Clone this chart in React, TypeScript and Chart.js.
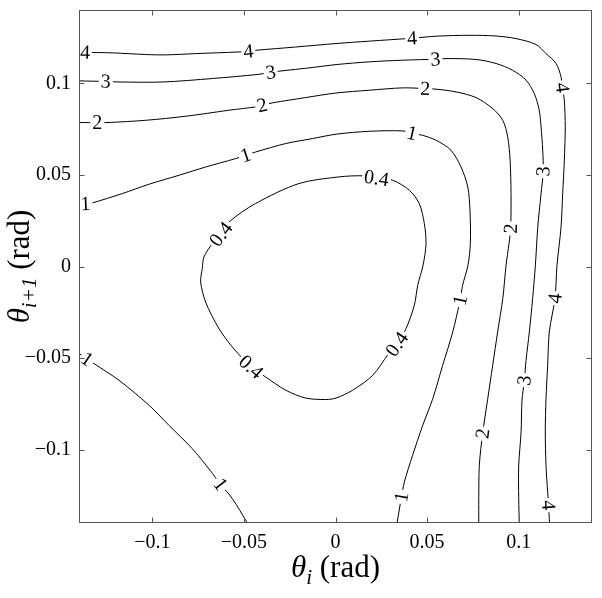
import React, { useEffect, useRef } from "react";
import { Chart, registerables } from "chart.js";

Chart.register(...registerables);

const X_MIN = -0.14;
const X_MAX = 0.14;
const Y_MIN = -0.14;
const Y_MAX = 0.14;
const TICK_VALUES = [-0.1, -0.05, 0, 0.05, 0.1];
const TICK_LABELS = ["−0.1", "−0.05", "0", "0.05", "0.1"];

// Contour level 4
const c4X = [-0.14, -0.1367, -0.1218, -0.1036, -0.0927, -0.0763, -0.0527, -0.0476, -0.0436, -0.0217, 0.0003, 0.0184, 0.0418, 0.0549, 0.073, 0.0876, 0.0985, 0.1094, 0.1149, 0.1204, 0.1231, 0.1239, 0.1249, 0.1254, 0.1249, 0.124, 0.1231, 0.1209, 0.1198, 0.1167, 0.1158, 0.1149, 0.1145, 0.1149, 0.1158, 0.1163, 0.1168];
const c4Y = [0.1171, 0.1169, 0.1166, 0.1157, 0.1155, 0.1162, 0.1171, 0.1175, 0.118, 0.1198, 0.1217, 0.123, 0.1246, 0.1257, 0.1262, 0.1258, 0.1244, 0.1212, 0.1162, 0.1108, 0.1035, 0.0977, 0.0907, 0.0762, 0.058, 0.0398, 0.0216, 0.0007, -0.0173, -0.0357, -0.0539, -0.0721, -0.0903, -0.1085, -0.1231, -0.1303, -0.14];
const c4Labels = [1, 7, 12, 21, 28, 35];

// Contour level 3
const c3X = [-0.14, -0.1254, -0.1182, -0.0945, -0.0672, -0.0418, -0.0354, -0.0308, -0.0127, 0.0003, 0.0184, 0.0367, 0.0494, 0.0546, 0.0603, 0.0767, 0.0876, 0.0967, 0.104, 0.1085, 0.1112, 0.1122, 0.1131, 0.1134, 0.1122, 0.1104, 0.1091, 0.1076, 0.1058, 0.104, 0.1031, 0.1018, 0.1013, 0.1, 0.1, 0.1003];
const c3Y = [0.1013, 0.101, 0.1007, 0.1007, 0.1026, 0.1049, 0.106, 0.1066, 0.1086, 0.1102, 0.1117, 0.1126, 0.113, 0.1131, 0.1135, 0.113, 0.1108, 0.1071, 0.1017, 0.0944, 0.0853, 0.0762, 0.0635, 0.052, 0.0398, 0.0216, 0.0007, -0.0175, -0.0357, -0.0512, -0.0621, -0.073, -0.0903, -0.1085, -0.1267, -0.14];
const c3Labels = [1, 6, 13, 23, 30];

// Contour level 2
const c2X = [-0.14, -0.13, -0.1236, -0.1036, -0.0818, -0.0581, -0.0436, -0.04, -0.0345, -0.0163, 0.0003, 0.0184, 0.0367, 0.049, 0.0549, 0.0658, 0.0767, 0.0858, 0.0913, 0.094, 0.0953, 0.0958, 0.0956, 0.0947, 0.0931, 0.0913, 0.0885, 0.0858, 0.0831, 0.0803, 0.0785, 0.0782, 0.0782];
const c2Y = [0.0786, 0.0785, 0.0786, 0.0798, 0.082, 0.0853, 0.0871, 0.088, 0.0893, 0.0922, 0.0947, 0.0962, 0.0975, 0.0971, 0.0968, 0.0953, 0.0922, 0.0862, 0.0798, 0.0707, 0.058, 0.0398, 0.0207, 0.0125, 0.0007, -0.0175, -0.0357, -0.0539, -0.0721, -0.0912, -0.1085, -0.1267, -0.14];
const c2Labels = [1, 7, 13, 22, 29];

// Contour level 1 (upper / right branch)
const c1aX = [-0.14, -0.1364, -0.1328, -0.1164, -0.1018, -0.0854, -0.0709, -0.0545, -0.049, -0.0436, -0.0272, -0.0127, 0.0003, 0.0184, 0.0367, 0.0418, 0.0476, 0.0549, 0.063, 0.0685, 0.0722, 0.0734, 0.0736, 0.0723, 0.0694, 0.068, 0.064, 0.0585, 0.0531, 0.0476, 0.0421, 0.0376, 0.036, 0.0336];
const c1aY = [0.0344, 0.0342, 0.0347, 0.0398, 0.0449, 0.0498, 0.0543, 0.0589, 0.0607, 0.0625, 0.0671, 0.0698, 0.0722, 0.0738, 0.074, 0.0727, 0.0716, 0.0689, 0.0635, 0.0543, 0.0434, 0.0307, 0.0125, 0.0007, -0.0102, -0.0184, -0.0357, -0.0539, -0.0721, -0.0867, -0.103, -0.1176, -0.1258, -0.14];
const c1aLabels = [1, 8, 15, 25, 32];

// Contour level 1 (lower-left branch)
const c1bX = [-0.14, -0.1355, -0.1318, -0.1182, -0.1018, -0.0909, -0.0782, -0.0685, -0.0628, -0.0563, -0.0481];
const c1bY = [-0.0475, -0.0505, -0.053, -0.0621, -0.0757, -0.0867, -0.0994, -0.1112, -0.1189, -0.1267, -0.14];
const c1bLabels = [1, 8];

// Contour level 0.4 (closed loop)
const c04X = [0.0224, 0.0312, 0.0403, 0.0457, 0.0485, 0.0494, 0.0478, 0.0449, 0.043, 0.0385, 0.0336, 0.0288, 0.0203, 0.0094, 0.0003, -0.0053, -0.0163, -0.0272, -0.0381, -0.0461, -0.0563, -0.0636, -0.0709, -0.0736, -0.0727, -0.0718, -0.0672, -0.0625, -0.0581, -0.0436, -0.0199, 0.0019, 0.0152, 0.0224];
const c04Y = [0.0482, 0.0471, 0.0416, 0.0344, 0.0234, 0.0125, 0.0007, -0.0102, -0.0212, -0.0339, -0.0424, -0.0479, -0.0594, -0.0675, -0.0718, -0.0726, -0.0718, -0.0675, -0.0603, -0.0548, -0.0439, -0.0339, -0.0194, -0.0084, -0.001, 0.0052, 0.0125, 0.0176, 0.0243, 0.0344, 0.0453, 0.0489, 0.0495, 0.0482];
const c04Labels = [0, 10, 19, 27];

const CONTOURS = [
  { level: "4", xs: c4X, ys: c4Y, labels: c4Labels, closed: false },
  { level: "3", xs: c3X, ys: c3Y, labels: c3Labels, closed: false },
  { level: "2", xs: c2X, ys: c2Y, labels: c2Labels, closed: false },
  { level: "1", xs: c1aX, ys: c1aY, labels: c1aLabels, closed: false },
  { level: "1", xs: c1bX, ys: c1bY, labels: c1bLabels, closed: false },
  { level: "0.4", xs: c04X, ys: c04Y, labels: c04Labels, closed: true },
];

const FONT = '"Liberation Serif", "Times New Roman", Times, serif';
const FRAME_COLOR = "#555555";

function tickText(v: number): string {
  const i = TICK_VALUES.findIndex((t) => Math.abs(t - v) < 1e-9);
  return i >= 0 ? TICK_LABELS[i] : "";
}

const contourLabelPlugin = {
  id: "contourLabels",
  afterDatasetsDraw(chart: any) {
    const ctx = chart.ctx;
    const sx = chart.scales.x;
    const sy = chart.scales.y;
    const area = chart.chartArea;
    ctx.save();
    ctx.beginPath();
    ctx.rect(area.left, area.top, area.right - area.left, area.bottom - area.top);
    ctx.clip();
    ctx.font = `20px ${FONT}`;
    ctx.textAlign = "center";
    ctx.textBaseline = "middle";
    chart.data.datasets.forEach((ds: any) => {
      const pts = ds.data;
      const n = pts.length;
      (ds.labelIdx || []).forEach((idx: number) => {
        let ia = idx - 1;
        let ib = idx + 1;
        if (ia < 0) ia = ds.closed ? n - 2 : 0;
        if (ib > n - 1) ib = ds.closed ? 1 : n - 1;
        const p = pts[idx];
        const a = pts[ia];
        const b = pts[ib];
        const px = sx.getPixelForValue(p.x);
        const py = sy.getPixelForValue(p.y);
        const ax = sx.getPixelForValue(a.x);
        const ay = sy.getPixelForValue(a.y);
        const bx = sx.getPixelForValue(b.x);
        const by = sy.getPixelForValue(b.y);
        let ang = Math.atan2(by - ay, bx - ax);
        if (ang > Math.PI / 2) ang -= Math.PI;
        if (ang < -Math.PI / 2) ang += Math.PI;
        const w = ctx.measureText(ds.levelText).width;
        ctx.save();
        ctx.translate(px, py);
        ctx.rotate(ang);
        ctx.fillStyle = "#ffffff";
        ctx.fillRect(-w / 2 - 2, -7, w + 4, 14);
        ctx.fillStyle = "#000000";
        ctx.fillText(ds.levelText, 0, 1);
        ctx.restore();
      });
    });
    ctx.restore();
  },
};

const framePlugin = {
  id: "frameAndTitles",
  afterDraw(chart: any) {
    const ctx = chart.ctx;
    const a = chart.chartArea;
    const sx = chart.scales.x;
    const sy = chart.scales.y;
    ctx.save();
    ctx.strokeStyle = FRAME_COLOR;
    ctx.lineWidth = 1;
    const L = Math.round(a.left) + 0.5;
    const R = Math.round(a.right) - 0.5;
    const T = Math.round(a.top) + 0.5;
    const B = Math.round(a.bottom) - 0.5;
    ctx.strokeRect(L, T, R - L, B - T);
    const tl = 5;
    ctx.beginPath();
    TICK_VALUES.forEach((v) => {
      const x = Math.round(sx.getPixelForValue(v)) + 0.5;
      ctx.moveTo(x, B);
      ctx.lineTo(x, B - tl);
      ctx.moveTo(x, T);
      ctx.lineTo(x, T + tl);
      const y = Math.round(sy.getPixelForValue(v)) + 0.5;
      ctx.moveTo(L, y);
      ctx.lineTo(L + tl, y);
      ctx.moveTo(R, y);
      ctx.lineTo(R - tl, y);
    });
    ctx.stroke();

    // axis titles
    const drawTitle = (sub: string, cx: number, baseline: number) => {
      const big = 31;
      const small = 21;
      const parts = [
        { t: "θ", f: `italic ${big}px ${FONT}`, dy: 0 },
        { t: sub, f: `italic ${small}px ${FONT}`, dy: 7 },
        { t: " (rad)", f: `${big}px ${FONT}`, dy: 0 },
      ];
      let total = 0;
      const widths = parts.map((p) => {
        ctx.font = p.f;
        const w = ctx.measureText(p.t).width;
        total += w;
        return w;
      });
      let x = cx - total / 2;
      ctx.fillStyle = "#000";
      ctx.textAlign = "left";
      ctx.textBaseline = "alphabetic";
      parts.forEach((p, i) => {
        ctx.font = p.f;
        ctx.fillText(p.t, x, baseline + p.dy);
        x += widths[i];
      });
    };
    const midX = (a.left + a.right) / 2;
    const midY = (a.top + a.bottom) / 2;
    drawTitle("i", midX, 577);
    ctx.save();
    ctx.translate(29, midY);
    ctx.rotate(-Math.PI / 2);
    drawTitle("i+1", 0, 0);
    ctx.restore();
    ctx.restore();
  },
};

const zeroPad = (s: any) => {
  s.paddingTop = 0;
  s.paddingBottom = 0;
  s.paddingLeft = 0;
  s.paddingRight = 0;
};

export default function App() {
  const ref = useRef<HTMLCanvasElement | null>(null);
  useEffect(() => {
    if (!ref.current) return;
    const datasets = CONTOURS.map((c) => ({
      data: c.xs.map((x, i) => ({ x, y: c.ys[i] })),
      showLine: true,
      borderColor: "#000000",
      borderWidth: 1,
      pointRadius: 0,
      fill: false,
      tension: 0.3,
      levelText: c.level,
      labelIdx: c.labels,
      closed: c.closed,
    }));
    const tickFont = { family: FONT, size: 20 };
    const chart = new Chart(ref.current, {
      type: "scatter",
      data: { datasets: datasets as any },
      options: {
        responsive: false,
        maintainAspectRatio: false,
        animation: false,
        layout: { padding: { left: 0, top: 10, right: 10, bottom: 0 } },
        plugins: { legend: { display: false }, tooltip: { enabled: false } },
        scales: {
          x: {
            type: "linear",
            min: X_MIN,
            max: X_MAX,
            grid: { display: false, drawTicks: false },
            border: { display: false },
            afterBuildTicks: (s: any) => {
              s.ticks = TICK_VALUES.map((v) => ({ value: v }));
            },
            afterFit: (s: any) => {
              s.height = 75;
              zeroPad(s);
            },
            ticks: {
              callback: (v: any) => tickText(Number(v)),
              font: tickFont,
              color: "#000",
              padding: 8,
              maxRotation: 0,
              autoSkip: false,
            },
          },
          y: {
            type: "linear",
            min: Y_MIN,
            max: Y_MAX,
            grid: { display: false, drawTicks: false },
            border: { display: false },
            afterBuildTicks: (s: any) => {
              s.ticks = TICK_VALUES.map((v) => ({ value: v }));
            },
            afterFit: (s: any) => {
              s.width = 79;
              zeroPad(s);
            },
            ticks: {
              callback: (v: any) => tickText(Number(v)),
              font: tickFont,
              color: "#000",
              padding: 8,
              autoSkip: false,
            },
          },
        },
      } as any,
      plugins: [contourLabelPlugin, framePlugin],
    });
    return () => chart.destroy();
  }, []);
  return (
    <div style={{ position: "absolute", left: 0, top: 0, width: 602, height: 598, background: "#fff" }}>
      <canvas ref={ref} width={602} height={598} />
    </div>
  );
}
